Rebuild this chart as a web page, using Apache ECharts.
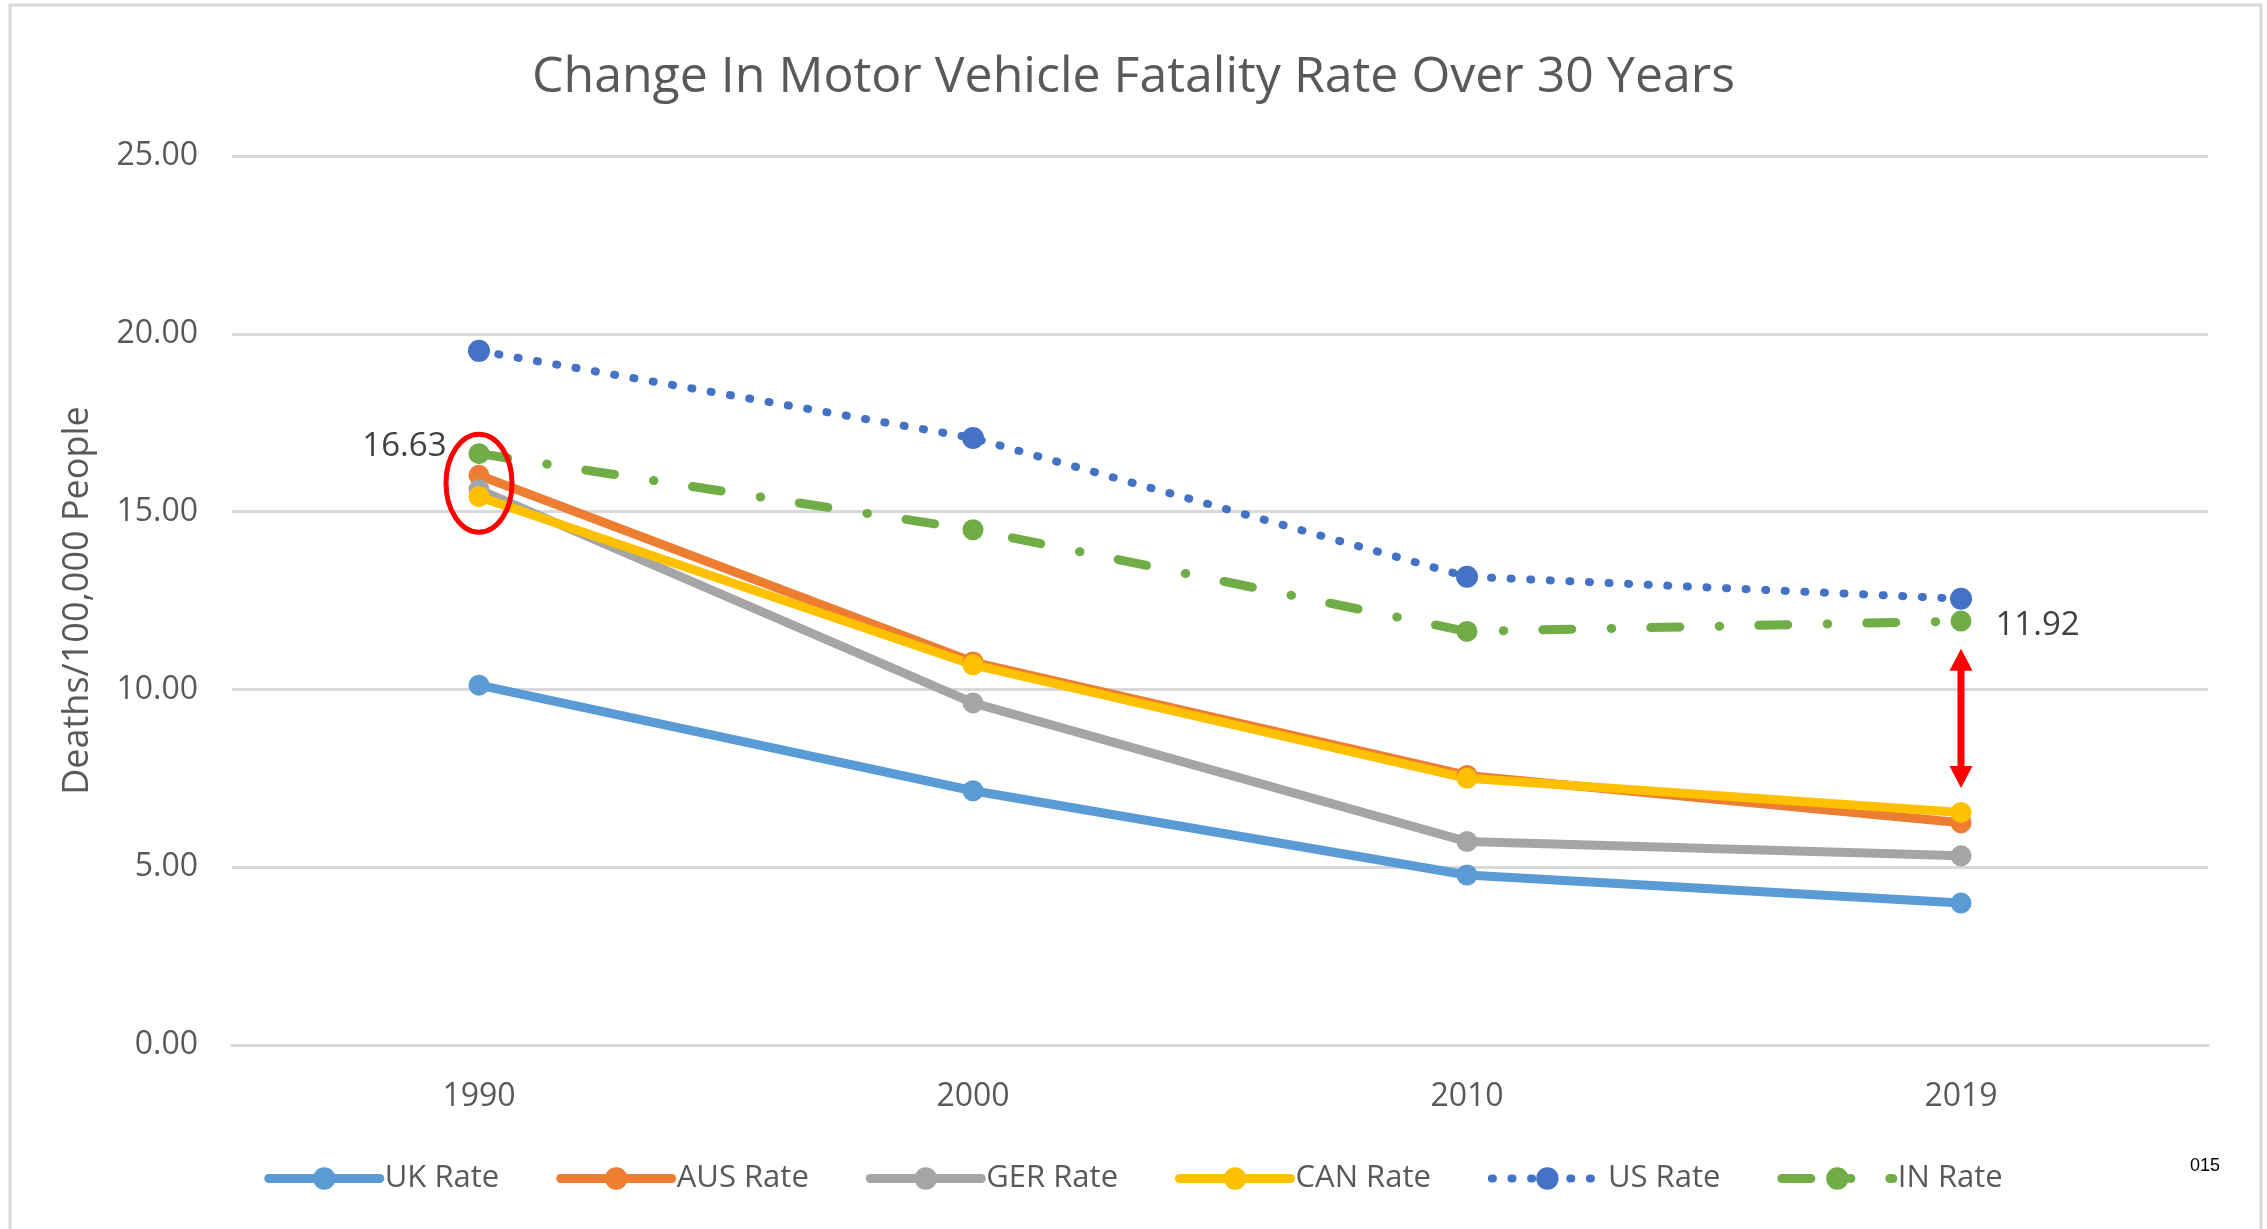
<!DOCTYPE html>
<html><head><meta charset="utf-8">
<script src="https://cdn.jsdelivr.net/npm/echarts@6/dist/echarts.min.js"></script>
<style>html,body{margin:0;padding:0;background:#fff}#c{width:2267px;height:1229px}</style>
</head><body><div id="c"></div>
<script>
const categories = ['1990', '2000', '2010', '2019'];
const ukRate  = [10.12, 7.15, 4.78, 3.99];
const ausRate = [16.02, 10.77, 7.58, 6.25];
const gerRate = [15.62, 9.62, 5.72, 5.32];
const canRate = [15.42, 10.69, 7.50, 6.54];
const usRate  = [19.52, 17.07, 13.17, 12.55];
const inRate  = [16.63, 14.49, 11.63, 11.92];
const yMin = 0, yMax = 25, yStep = 5;

const FONT = '"Open Sans", sans-serif';
const TXT = '#595959';
const chart = echarts.init(document.getElementById('c'), null, {renderer: 'canvas'});

function solid(name, color, data) {
  return {
    name, type: 'line', data, symbol: 'circle', symbolSize: 21,
    itemStyle: {color}, lineStyle: {color, width: 9, cap: 'round', join: 'round'},
    emphasis: {disabled: true}
  };
}
const inData = inRate.map((v, i) => {
  if (i === 0) return {value: v, label: {show: true, position: 'left', distance: 22, offset: [0, -7]}};
  if (i === inRate.length - 1) return {value: v, label: {show: true, position: 'right', distance: 24, offset: [0, 4]}};
  return v;
});

const option = {
  backgroundColor: '#fff',
  animation: false,
  title: {
    text: 'Change In Motor Vehicle Fatality Rate Over 30 Years',
    left: 'center', top: 48,
    textStyle: {fontFamily: FONT, fontSize: 50, fontWeight: 'normal', color: TXT}
  },
  grid: {left: 232, right: 59, top: 156, bottom: 184, containLabel: false, outerBoundsMode: 'none'},
  legend: {
    bottom: 30, left: 'center',
    itemWidth: 111, itemHeight: 28, itemGap: 57,
    lineStyle: {width: 'inherit'},
    textStyle: {fontFamily: FONT, fontSize: 31, color: TXT},
    data: ['UK Rate', 'AUS Rate', 'GER Rate', 'CAN Rate', 'US Rate', 'IN Rate']
  },
  xAxis: {
    type: 'category', data: categories, boundaryGap: true,
    axisLine: {lineStyle: {color: '#D9D9D9', width: 3}},
    axisTick: {show: false},
    axisLabel: {fontFamily: FONT, fontSize: 32, color: TXT, margin: 36}
  },
  yAxis: {
    type: 'value', min: yMin, max: yMax, interval: yStep,
    name: 'Deaths/100,000 People', nameLocation: 'middle', nameRotate: 90, nameGap: 136,
    nameTextStyle: {fontFamily: FONT, fontSize: 36, color: TXT},
    axisLine: {show: false}, axisTick: {show: false},
    axisLabel: {fontFamily: FONT, fontSize: 32, color: TXT, margin: 34, formatter: v => v.toFixed(2)},
    splitLine: {lineStyle: {color: '#D9D9D9', width: 3}}
  },
  series: [
    solid('UK Rate', '#5B9BD5', ukRate),
    solid('AUS Rate', '#ED7D31', ausRate),
    solid('GER Rate', '#A5A5A5', gerRate),
    solid('CAN Rate', '#FFC000', canRate),
    {
      name: 'US Rate', type: 'line', data: usRate, symbol: 'circle', symbolSize: 22,
      itemStyle: {color: '#4472C4'},
      lineStyle: {color: '#4472C4', width: 8, type: [1, 18.6], cap: 'round'},
      emphasis: {disabled: true}
    },
    {
      name: 'IN Rate', type: 'line', data: inData, symbol: 'circle', symbolSize: 21,
      itemStyle: {color: '#70AD47'},
      lineStyle: {color: '#70AD47', width: 9, type: [29, 39.5, 0.5, 39], cap: 'round'},
      label: {show: false, fontFamily: FONT, fontSize: 33, color: '#404040', formatter: p => p.value.toFixed(2)},
      emphasis: {disabled: true}
    }
  ]
};
chart.setOption(option);

// annotations placed from data coordinates
const circleAt = [0, 15.8];
const arrowTop = [3, inRate[3] - 0.78];
const arrowBottom = [3, canRate[3] + 0.69];
const pc = chart.convertToPixel({gridIndex: 0}, circleAt);
const pt = chart.convertToPixel({gridIndex: 0}, arrowTop);
const pb = chart.convertToPixel({gridIndex: 0}, arrowBottom);
const x = pt[0], hw = 11.5, sw = 3.5, hl = 22;
const arrowPts = [
  [x, pt[1]], [x + hw, pt[1] + hl], [x + sw, pt[1] + hl], [x + sw, pb[1] - hl], [x + hw, pb[1] - hl],
  [x, pb[1]], [x - hw, pb[1] - hl], [x - sw, pb[1] - hl], [x - sw, pt[1] + hl], [x - hw, pt[1] + hl]
];
chart.setOption({
  graphic: [
    {type: 'rect', shape: {x: 10, y: 5, width: 2251, height: 1240}, style: {fill: 'none', stroke: '#D9D9D9', lineWidth: 3}, silent: true, z: -1},
    {type: 'ellipse', shape: {cx: pc[0], cy: pc[1], rx: 33, ry: 49}, style: {fill: 'none', stroke: '#FF0000', lineWidth: 5}, silent: true, z: 100},
    {type: 'polygon', shape: {points: arrowPts}, style: {fill: '#FF0000'}, silent: true, z: 100},
    {type: 'text', x: 2205, y: 1166, style: {text: '015', fontFamily: '"Liberation Sans", Arial, sans-serif', fontSize: 18, fill: '#000', align: 'center', verticalAlign: 'middle'}, silent: true}
  ]
});
</script></body></html>
